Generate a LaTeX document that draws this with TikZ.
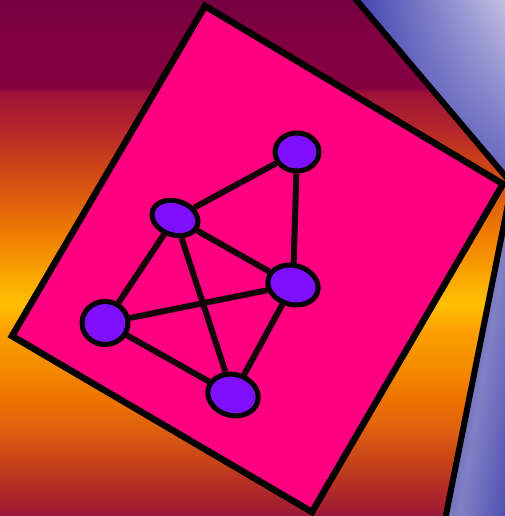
\documentclass[tikz,border=0pt]{standalone}
\usepackage{tikz}
\usetikzlibrary{positioning, shapes.geometric, shadings}
\usepackage{xcolor}

\definecolor{sheetpink}{HTML}{FF0080}
\definecolor{vertviolet}{HTML}{7F10FF}
\definecolor{linkdark}{HTML}{14040A}
\definecolor{bluedeep}{HTML}{4040B0}
\definecolor{bluepale}{HTML}{D8D8EC}
\definecolor{bluemid}{HTML}{8080C4}

% stops between 25bp and 75bp (the part fitted to the path)
\pgfdeclareverticalshading{sunset}{100bp}{
  color(0bp)=({rgb,255:red,154;green,24;blue,56});
  color(25bp)=({rgb,255:red,154;green,24;blue,56});
  color(27.5bp)=({rgb,255:red,176;green,42;blue,40});
  color(30.5bp)=({rgb,255:red,200;green,68;blue,24});
  color(33.5bp)=({rgb,255:red,224;green,96;blue,16});
  color(36.5bp)=({rgb,255:red,238;green,117;blue,0});
  color(39.5bp)=({rgb,255:red,245;green,140;blue,0});
  color(43bp)=({rgb,255:red,252;green,160;blue,0});
  color(45.5bp)=({rgb,255:red,255;green,192;blue,0});
  color(48bp)=({rgb,255:red,250;green,168;blue,0});
  color(52bp)=({rgb,255:red,240;green,128;blue,0});
  color(55.5bp)=({rgb,255:red,224;green,96;blue,16});
  color(59bp)=({rgb,255:red,204;green,68;blue,24});
  color(62bp)=({rgb,255:red,184;green,42;blue,42});
  color(66bp)=({rgb,255:red,158;green,18;blue,56});
  color(66.5bp)=({rgb,255:red,134;green,0;blue,64});
  color(72bp)=({rgb,255:red,128;green,0;blue,64});
  color(75bp)=({rgb,255:red,116;green,0;blue,64});
  color(100bp)=({rgb,255:red,116;green,0;blue,64})}

\begin{document}
\begin{tikzpicture}[x=1pt, y=-1pt,
    vert/.style={ellipse, draw=black, line width=5pt, fill=vertviolet, inner sep=0pt},
    link/.style={line width=6pt, draw=linkdark}]
  \useasboundingbox (0,0) rectangle (505,516);
  \clip (0,0) rectangle (505,516);

  % background bands
  \shade[shading=sunset] (0,0) rectangle (505,516);

  % blue sheet behind
  \coordinate (B1) at (353,-4);
  \coordinate (B2) at (512,184);
  \coordinate (B3) at (445,520);
  \shade[upper right=bluepale, upper left=bluedeep, lower left=bluedeep, lower right=bluedeep!80!white]
    (B1) -- (B2) -- (530,184) -- (530,-4) -- cycle;
  \shade[left color=bluedeep, right color=bluedeep, middle color=bluemid, shading angle=80]
    (B2) -- (B3) -- (530,520) -- (530,184) -- cycle;
  \draw[line width=6pt] (B1) -- (B2) -- (B3);

  % pink sheet
  \coordinate (P1) at (205,6);
  \coordinate (P2) at (503,184);
  \coordinate (P3) at (312,512);
  \coordinate (P4) at (12,336);
  \fill[sheetpink] (P1) -- (P2) -- (P3) -- (P4) -- cycle;
  \draw[line width=6.5pt, line join=miter] (P1) -- (P2) -- (P3) -- (P4) -- cycle;

  % graph
  \node[vert, minimum width=44pt, minimum height=38pt] (V1) at (297,152) {};
  \node[vert, minimum width=47pt, minimum height=34pt, rotate=-18] (V2) at (175,218) {};
  \node[vert, minimum width=51pt, minimum height=39pt, rotate=-15] (V3) at (293,285) {};
  \node[vert, minimum width=46pt, minimum height=43pt] (V4) at (105,323) {};
  \node[vert, minimum width=51pt, minimum height=41pt, rotate=-15] (V5) at (233,395) {};

  \draw[link] (V1) -- (V2);
  \draw[link] (V1) -- (V3);
  \draw[link] (V2) -- (V3);
  \draw[link] (V2) -- (V4);
  \draw[link] (V2) -- (V5);
  \draw[link] (V4) -- (V3);
  \draw[link] (V4) -- (V5);
  \draw[link] (V5) -- (V3);
\end{tikzpicture}
\end{document}
